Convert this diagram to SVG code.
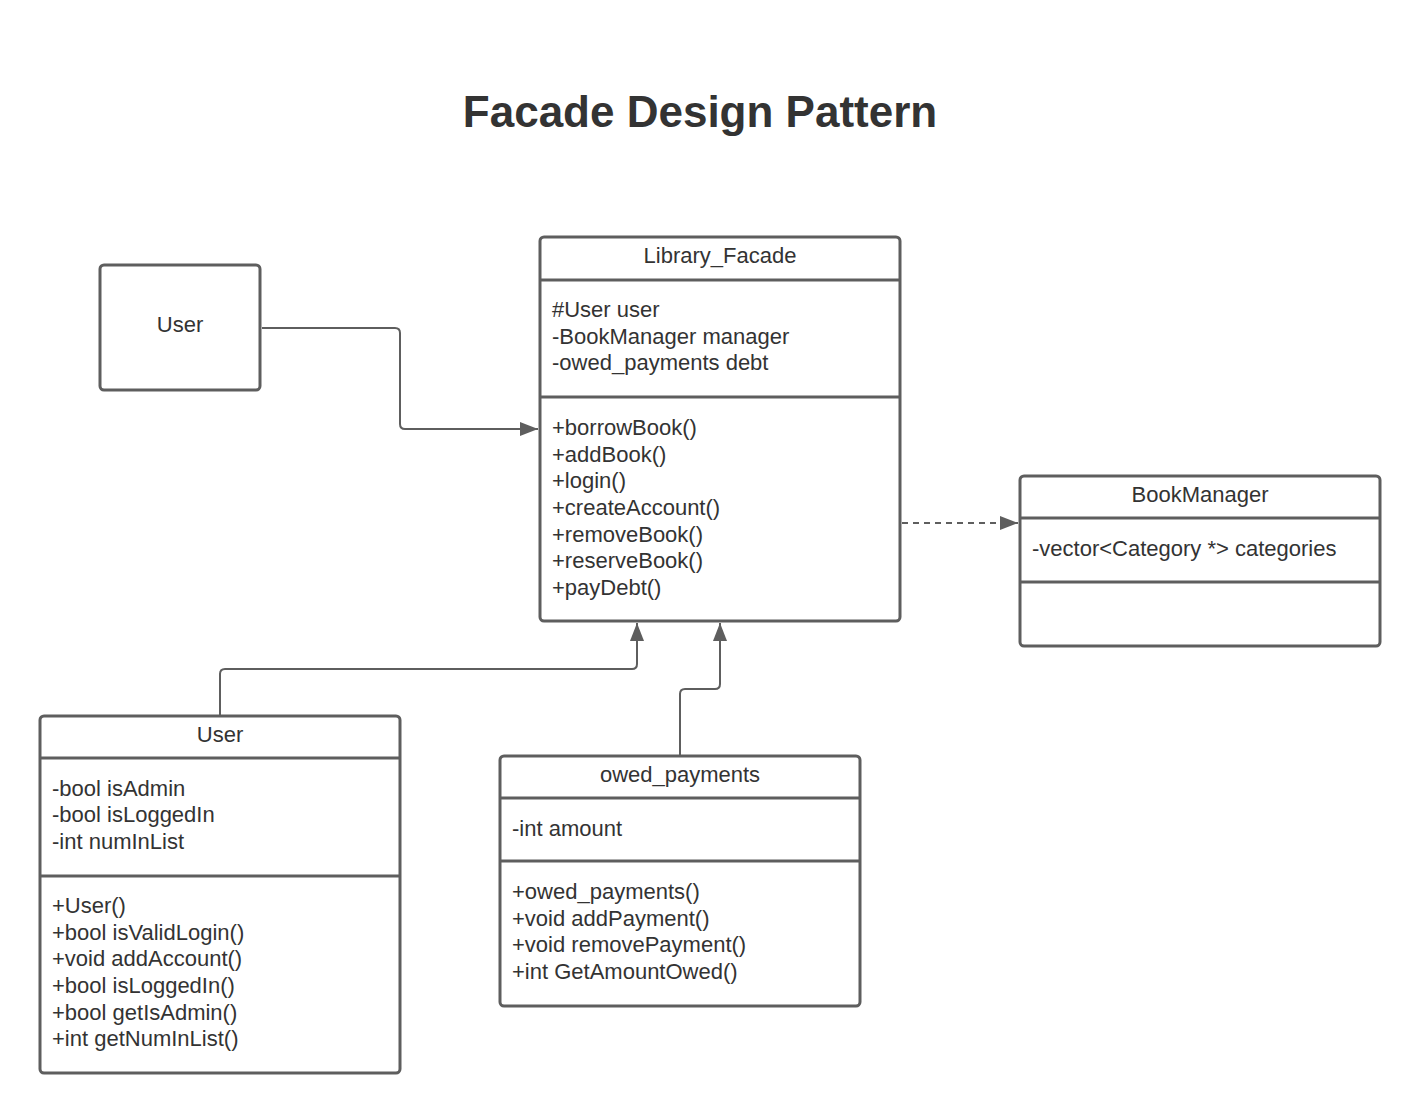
<svg xmlns="http://www.w3.org/2000/svg" width="1420" height="1114" viewBox="0 0 1420 1114">
<style>
.box{fill:#ffffff;stroke:#5e5e5e;stroke-width:3}
.div{stroke:#5e5e5e;stroke-width:3;fill:none}
.t{font-family:"Liberation Sans",Arial,sans-serif;font-size:22px;fill:#333333}
.c{text-anchor:middle}
.title{font-family:"Liberation Sans",Arial,sans-serif;font-size:44px;font-weight:bold;fill:#333333;text-anchor:middle}
.conn{fill:none;stroke:#5e5e5e;stroke-width:2}
.dash{stroke-dasharray:6,5}
</style>
<defs>
<marker id="arr" viewBox="0 0 18 14" refX="18" refY="7" markerWidth="18" markerHeight="14" markerUnits="userSpaceOnUse" orient="auto">
<path d="M0,0 L18,7 L0,14 Z" fill="#5e5e5e"/>
</marker>
</defs>
<rect width="1420" height="1114" fill="#ffffff"/>
<text class="title" x="700" y="127">Facade Design Pattern</text>

<g id="connectors">
<path class="conn" d="M262,328 H395 Q400,328 400,333 V424 Q400,429 405,429 H538" marker-end="url(#arr)"/>
<path class="conn dash" d="M902,523 H1018" marker-end="url(#arr)"/>
<path class="conn" d="M220,715 V674 Q220,669 225,669 H632 Q637,669 637,664 V623" marker-end="url(#arr)"/>
<path class="conn" d="M680,755 V694 Q680,689 685,689 H715 Q720,689 720,684 V623" marker-end="url(#arr)"/>
</g>

<g id="user-actor">
<rect class="box" x="100" y="265" width="160" height="125" rx="4"/>
<text class="t c" x="180" y="332">User</text>
</g>

<g id="library-facade">
<rect class="box" x="540" y="237" width="360" height="384" rx="4"/>
<line class="div" x1="540" y1="280" x2="900" y2="280"/>
<line class="div" x1="540" y1="397" x2="900" y2="397"/>
<text class="t c" x="720" y="263">Library_Facade</text>
<text class="t" x="552" y="317">#User user</text>
<text class="t" x="552" y="344">-BookManager manager</text>
<text class="t" x="552" y="370">-owed_payments debt</text>
<text class="t" x="552" y="435">+borrowBook()</text>
<text class="t" x="552" y="462">+addBook()</text>
<text class="t" x="552" y="488">+login()</text>
<text class="t" x="552" y="515">+createAccount()</text>
<text class="t" x="552" y="542">+removeBook()</text>
<text class="t" x="552" y="568">+reserveBook()</text>
<text class="t" x="552" y="595">+payDebt()</text>
</g>

<g id="book-manager">
<rect class="box" x="1020" y="476" width="360" height="170" rx="4"/>
<line class="div" x1="1020" y1="518" x2="1380" y2="518"/>
<line class="div" x1="1020" y1="582" x2="1380" y2="582"/>
<text class="t c" x="1200" y="502">BookManager</text>
<text class="t" x="1032" y="556">-vector&lt;Category *&gt; categories</text>
</g>

<g id="user-class">
<rect class="box" x="40" y="716" width="360" height="357" rx="4"/>
<line class="div" x1="40" y1="758" x2="400" y2="758"/>
<line class="div" x1="40" y1="876" x2="400" y2="876"/>
<text class="t c" x="220" y="742">User</text>
<text class="t" x="52" y="796">-bool isAdmin</text>
<text class="t" x="52" y="822">-bool isLoggedIn</text>
<text class="t" x="52" y="849">-int numInList</text>
<text class="t" x="52" y="913">+User()</text>
<text class="t" x="52" y="940">+bool isValidLogin()</text>
<text class="t" x="52" y="966">+void addAccount()</text>
<text class="t" x="52" y="993">+bool isLoggedIn()</text>
<text class="t" x="52" y="1020">+bool getIsAdmin()</text>
<text class="t" x="52" y="1046">+int getNumInList()</text>
</g>

<g id="owed-payments">
<rect class="box" x="500" y="756" width="360" height="250" rx="4"/>
<line class="div" x1="500" y1="798" x2="860" y2="798"/>
<line class="div" x1="500" y1="861" x2="860" y2="861"/>
<text class="t c" x="680" y="782">owed_payments</text>
<text class="t" x="512" y="836">-int amount</text>
<text class="t" x="512" y="899">+owed_payments()</text>
<text class="t" x="512" y="926">+void addPayment()</text>
<text class="t" x="512" y="952">+void removePayment()</text>
<text class="t" x="512" y="979">+int GetAmountOwed()</text>
</g>
</svg>
